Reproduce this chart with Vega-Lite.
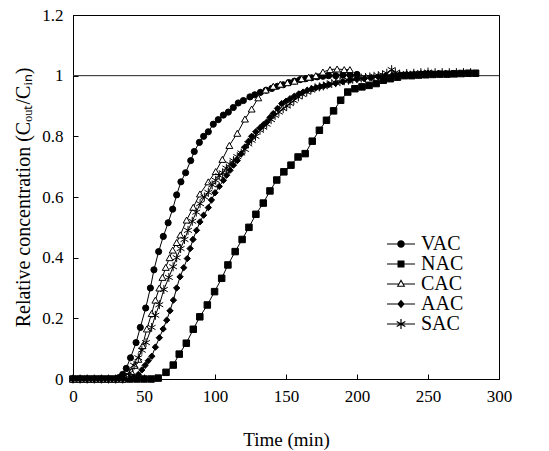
{
  "$schema": "https://vega.github.io/schema/vega-lite/v6.json",
  "width": 426,
  "height": 364,
  "autosize": {"type": "none"},
  "padding": {"left": 73, "top": 15, "right": 50, "bottom": 72},
  "background": "white",
  "config": {
    "view": {"stroke": "black", "strokeWidth": 1},
    "font": "Liberation Serif",
    "axis": {
      "grid": false,
      "domainColor": "black",
      "tickColor": "black",
      "labelColor": "black",
      "titleColor": "black",
      "labelFont": "Liberation Serif",
      "titleFont": "Liberation Serif",
      "labelFontSize": 17,
      "titleFontSize": 19,
      "titleFontWeight": "normal",
      "tickSize": -5,
      "labelOverlap": false,
      "labelFlush": false
    }
  },
  "datasets": {
    "ref": [{"c": 1}],
    "d": [
      {"s":"VAC","t":0,"c":0},{"s":"VAC","t":2.5,"c":0},{"s":"VAC","t":5,"c":0},{"s":"VAC","t":7.5,"c":0},{"s":"VAC","t":10,"c":0},{"s":"VAC","t":12.5,"c":0},{"s":"VAC","t":15,"c":0},{"s":"VAC","t":17.5,"c":0},{"s":"VAC","t":20,"c":0},{"s":"VAC","t":22.5,"c":0},{"s":"VAC","t":25,"c":0},{"s":"VAC","t":27.5,"c":0},{"s":"VAC","t":30,"c":0},
      {"s":"VAC","t":32.5,"c":0.005},{"s":"VAC","t":35,"c":0.015},{"s":"VAC","t":37.5,"c":0.035},{"s":"VAC","t":40.5,"c":0.07},{"s":"VAC","t":44.4,"c":0.12},{"s":"VAC","t":47.4,"c":0.17},{"s":"VAC","t":51.2,"c":0.234},{"s":"VAC","t":54.5,"c":0.3},{"s":"VAC","t":57,"c":0.36},{"s":"VAC","t":60.3,"c":0.42},{"s":"VAC","t":63.6,"c":0.47},{"s":"VAC","t":67,"c":0.515},{"s":"VAC","t":70.2,"c":0.56},{"s":"VAC","t":73,"c":0.607},{"s":"VAC","t":76,"c":0.65},{"s":"VAC","t":79.3,"c":0.68},{"s":"VAC","t":82.9,"c":0.72},{"s":"VAC","t":85.4,"c":0.75},{"s":"VAC","t":89,"c":0.78},{"s":"VAC","t":92,"c":0.8},{"s":"VAC","t":95.3,"c":0.815},{"s":"VAC","t":98.8,"c":0.84},{"s":"VAC","t":102.3,"c":0.855},{"s":"VAC","t":105.9,"c":0.87},{"s":"VAC","t":109.4,"c":0.88},{"s":"VAC","t":112.9,"c":0.895},{"s":"VAC","t":116.4,"c":0.91},{"s":"VAC","t":120,"c":0.918},{"s":"VAC","t":124.6,"c":0.93},{"s":"VAC","t":128,"c":0.937},{"s":"VAC","t":132,"c":0.945},{"s":"VAC","t":136,"c":0.952},{"s":"VAC","t":140,"c":0.958},{"s":"VAC","t":144,"c":0.965},{"s":"VAC","t":148,"c":0.97},{"s":"VAC","t":152,"c":0.977},{"s":"VAC","t":156,"c":0.982},{"s":"VAC","t":160,"c":0.987},{"s":"VAC","t":164,"c":0.99},{"s":"VAC","t":168,"c":0.993},{"s":"VAC","t":172,"c":0.996},{"s":"VAC","t":176,"c":0.998},{"s":"VAC","t":180,"c":1.0},{"s":"VAC","t":185,"c":1.0},{"s":"VAC","t":190,"c":1.002},{"s":"VAC","t":195,"c":1.003},{"s":"VAC","t":200,"c":1.004},

      {"s":"NAC","t":0,"c":0},{"s":"NAC","t":5,"c":0},{"s":"NAC","t":10,"c":0},{"s":"NAC","t":15,"c":0},{"s":"NAC","t":20,"c":0},{"s":"NAC","t":25,"c":0},{"s":"NAC","t":30,"c":0},{"s":"NAC","t":35,"c":0},{"s":"NAC","t":40,"c":0},{"s":"NAC","t":45,"c":0},{"s":"NAC","t":50,"c":0},{"s":"NAC","t":55,"c":0},
      {"s":"NAC","t":60,"c":0.003},{"s":"NAC","t":65.5,"c":0.022},{"s":"NAC","t":70.6,"c":0.046},{"s":"NAC","t":74.8,"c":0.082},{"s":"NAC","t":79.8,"c":0.118},{"s":"NAC","t":84.7,"c":0.164},{"s":"NAC","t":89.3,"c":0.205},{"s":"NAC","t":94.6,"c":0.244},{"s":"NAC","t":99.7,"c":0.288},{"s":"NAC","t":104.7,"c":0.332},{"s":"NAC","t":109.1,"c":0.376},{"s":"NAC","t":114.2,"c":0.42},{"s":"NAC","t":119.1,"c":0.46},{"s":"NAC","t":123.9,"c":0.5},{"s":"NAC","t":128.8,"c":0.543},{"s":"NAC","t":134,"c":0.58},{"s":"NAC","t":138.7,"c":0.62},{"s":"NAC","t":143.5,"c":0.656},{"s":"NAC","t":148.5,"c":0.683},{"s":"NAC","t":153.5,"c":0.705},{"s":"NAC","t":158.5,"c":0.732},{"s":"NAC","t":163.5,"c":0.743},{"s":"NAC","t":168.5,"c":0.784},{"s":"NAC","t":173.5,"c":0.82},{"s":"NAC","t":178.5,"c":0.853},{"s":"NAC","t":183.5,"c":0.884},{"s":"NAC","t":188.5,"c":0.919},{"s":"NAC","t":193.5,"c":0.946},{"s":"NAC","t":198.5,"c":0.957},{"s":"NAC","t":203.5,"c":0.963},{"s":"NAC","t":208.5,"c":0.968},{"s":"NAC","t":213.5,"c":0.974},{"s":"NAC","t":218.5,"c":0.985},{"s":"NAC","t":223.5,"c":0.99},{"s":"NAC","t":228.5,"c":0.995},{"s":"NAC","t":233.5,"c":1.0},{"s":"NAC","t":238.5,"c":1.0},{"s":"NAC","t":243.5,"c":1.002},{"s":"NAC","t":248.5,"c":1.003},{"s":"NAC","t":253.5,"c":1.004},{"s":"NAC","t":258.5,"c":1.005},{"s":"NAC","t":263.5,"c":1.005},{"s":"NAC","t":268.5,"c":1.006},{"s":"NAC","t":273.5,"c":1.007},{"s":"NAC","t":278.5,"c":1.008},{"s":"NAC","t":283.5,"c":1.008},

      {"s":"CAC","t":0,"c":0},{"s":"CAC","t":5,"c":0},{"s":"CAC","t":10,"c":0},{"s":"CAC","t":15,"c":0},{"s":"CAC","t":20,"c":0},{"s":"CAC","t":25,"c":0},{"s":"CAC","t":30,"c":0},{"s":"CAC","t":35,"c":0},
      {"s":"CAC","t":38,"c":0.01},{"s":"CAC","t":41,"c":0.025},{"s":"CAC","t":43.5,"c":0.045},{"s":"CAC","t":46,"c":0.065},{"s":"CAC","t":49,"c":0.11},{"s":"CAC","t":52,"c":0.165},{"s":"CAC","t":55.4,"c":0.216},{"s":"CAC","t":58,"c":0.26},{"s":"CAC","t":60.8,"c":0.3},{"s":"CAC","t":63,"c":0.335},{"s":"CAC","t":65.3,"c":0.368},{"s":"CAC","t":68,"c":0.4},{"s":"CAC","t":70.2,"c":0.425},{"s":"CAC","t":73,"c":0.45},{"s":"CAC","t":75.6,"c":0.475},{"s":"CAC","t":80,"c":0.524},{"s":"CAC","t":84.7,"c":0.566},{"s":"CAC","t":89.4,"c":0.61},{"s":"CAC","t":95.3,"c":0.65},{"s":"CAC","t":100.5,"c":0.684},{"s":"CAC","t":105.2,"c":0.724},{"s":"CAC","t":110.1,"c":0.77},{"s":"CAC","t":115.7,"c":0.81},{"s":"CAC","t":121.1,"c":0.857},{"s":"CAC","t":125.8,"c":0.89},{"s":"CAC","t":130.5,"c":0.927},{"s":"CAC","t":135.7,"c":0.953},{"s":"CAC","t":141,"c":0.965},{"s":"CAC","t":146,"c":0.972},{"s":"CAC","t":151,"c":0.977},{"s":"CAC","t":156,"c":0.982},{"s":"CAC","t":161,"c":0.99},{"s":"CAC","t":166,"c":0.995},{"s":"CAC","t":171,"c":1.0},{"s":"CAC","t":176,"c":1.012},{"s":"CAC","t":181,"c":1.02},{"s":"CAC","t":186,"c":1.022},{"s":"CAC","t":191,"c":1.02},{"s":"CAC","t":195,"c":1.02},

      {"s":"AAC","t":0,"c":0},{"s":"AAC","t":5,"c":0},{"s":"AAC","t":10,"c":0},{"s":"AAC","t":15,"c":0},{"s":"AAC","t":20,"c":0},{"s":"AAC","t":25,"c":0},{"s":"AAC","t":30,"c":0},{"s":"AAC","t":35,"c":0},{"s":"AAC","t":40,"c":0},
      {"s":"AAC","t":43,"c":0.005},{"s":"AAC","t":46,"c":0.015},{"s":"AAC","t":48.5,"c":0.03},{"s":"AAC","t":50.8,"c":0.045},{"s":"AAC","t":53,"c":0.06},{"s":"AAC","t":55.5,"c":0.075},{"s":"AAC","t":58,"c":0.105},{"s":"AAC","t":60.8,"c":0.136},{"s":"AAC","t":63.5,"c":0.165},{"s":"AAC","t":66,"c":0.194},{"s":"AAC","t":68.3,"c":0.225},{"s":"AAC","t":70.7,"c":0.26},{"s":"AAC","t":73,"c":0.3},{"s":"AAC","t":75.4,"c":0.337},{"s":"AAC","t":78,"c":0.367},{"s":"AAC","t":80.5,"c":0.397},{"s":"AAC","t":82.5,"c":0.43},{"s":"AAC","t":84.5,"c":0.46},{"s":"AAC","t":87,"c":0.49},{"s":"AAC","t":89.4,"c":0.518},{"s":"AAC","t":92,"c":0.54},{"s":"AAC","t":95.3,"c":0.565},{"s":"AAC","t":97.5,"c":0.59},{"s":"AAC","t":100,"c":0.614},{"s":"AAC","t":103,"c":0.635},{"s":"AAC","t":105.9,"c":0.655},{"s":"AAC","t":108.2,"c":0.672},{"s":"AAC","t":110.6,"c":0.688},{"s":"AAC","t":113,"c":0.705},{"s":"AAC","t":115.7,"c":0.72},{"s":"AAC","t":118.5,"c":0.742},{"s":"AAC","t":121.1,"c":0.765},{"s":"AAC","t":123.5,"c":0.783},{"s":"AAC","t":125.8,"c":0.8},{"s":"AAC","t":128.7,"c":0.815},{"s":"AAC","t":131.7,"c":0.828},{"s":"AAC","t":134,"c":0.838},{"s":"AAC","t":136.4,"c":0.847},{"s":"AAC","t":138.7,"c":0.862},{"s":"AAC","t":141,"c":0.875},{"s":"AAC","t":144,"c":0.892},{"s":"AAC","t":147,"c":0.908},{"s":"AAC","t":150,"c":0.916},{"s":"AAC","t":152.8,"c":0.924},{"s":"AAC","t":155.8,"c":0.932},{"s":"AAC","t":159,"c":0.94},{"s":"AAC","t":162,"c":0.946},{"s":"AAC","t":165,"c":0.952},{"s":"AAC","t":168,"c":0.956},{"s":"AAC","t":171,"c":0.96},{"s":"AAC","t":174,"c":0.964},{"s":"AAC","t":177,"c":0.967},{"s":"AAC","t":180,"c":0.97},{"s":"AAC","t":185,"c":0.975},{"s":"AAC","t":190,"c":0.98},{"s":"AAC","t":195,"c":0.985},{"s":"AAC","t":200,"c":0.988},{"s":"AAC","t":205,"c":0.99},{"s":"AAC","t":210,"c":0.993},{"s":"AAC","t":215,"c":0.996},{"s":"AAC","t":220,"c":1.0},{"s":"AAC","t":225,"c":1.002},{"s":"AAC","t":230,"c":1.004},{"s":"AAC","t":235,"c":1.005},{"s":"AAC","t":240,"c":1.006},{"s":"AAC","t":245,"c":1.007},{"s":"AAC","t":250,"c":1.008},

      {"s":"SAC","t":0,"c":0},{"s":"SAC","t":5,"c":0},{"s":"SAC","t":10,"c":0},{"s":"SAC","t":15,"c":0},{"s":"SAC","t":20,"c":0},{"s":"SAC","t":25,"c":0},{"s":"SAC","t":30,"c":0},{"s":"SAC","t":35,"c":0},
      {"s":"SAC","t":37.5,"c":0.005},{"s":"SAC","t":40,"c":0.02},{"s":"SAC","t":43,"c":0.045},{"s":"SAC","t":46,"c":0.07},{"s":"SAC","t":48.5,"c":0.095},{"s":"SAC","t":51.4,"c":0.12},{"s":"SAC","t":55.4,"c":0.17},{"s":"SAC","t":58,"c":0.21},{"s":"SAC","t":60.8,"c":0.245},{"s":"SAC","t":64,"c":0.295},{"s":"SAC","t":67.5,"c":0.335},{"s":"SAC","t":70.5,"c":0.37},{"s":"SAC","t":73,"c":0.4},{"s":"SAC","t":75.8,"c":0.43},{"s":"SAC","t":78.5,"c":0.46},{"s":"SAC","t":81,"c":0.49},{"s":"SAC","t":84,"c":0.52},{"s":"SAC","t":86.8,"c":0.55},{"s":"SAC","t":89.5,"c":0.578},{"s":"SAC","t":92.5,"c":0.6},{"s":"SAC","t":95.3,"c":0.615},{"s":"SAC","t":98,"c":0.64},{"s":"SAC","t":100.5,"c":0.655},{"s":"SAC","t":103,"c":0.67},{"s":"SAC","t":105.4,"c":0.68},{"s":"SAC","t":108,"c":0.695},{"s":"SAC","t":110.6,"c":0.708},{"s":"SAC","t":113,"c":0.72},{"s":"SAC","t":115.7,"c":0.733},{"s":"SAC","t":118.5,"c":0.745},{"s":"SAC","t":121.1,"c":0.757},{"s":"SAC","t":123.5,"c":0.775},{"s":"SAC","t":125.8,"c":0.787},{"s":"SAC","t":128.5,"c":0.8},{"s":"SAC","t":131.7,"c":0.82},{"s":"SAC","t":134,"c":0.83},{"s":"SAC","t":136.4,"c":0.84},{"s":"SAC","t":139.5,"c":0.855},{"s":"SAC","t":142.3,"c":0.869},{"s":"SAC","t":145,"c":0.88},{"s":"SAC","t":148,"c":0.891},{"s":"SAC","t":150.5,"c":0.9},{"s":"SAC","t":152.8,"c":0.908},{"s":"SAC","t":155.5,"c":0.918},{"s":"SAC","t":158.7,"c":0.93},{"s":"SAC","t":161.5,"c":0.938},{"s":"SAC","t":164.6,"c":0.946},{"s":"SAC","t":167.5,"c":0.953},{"s":"SAC","t":170.4,"c":0.96},{"s":"SAC","t":173.5,"c":0.963},{"s":"SAC","t":176.3,"c":0.966},{"s":"SAC","t":179,"c":0.97},{"s":"SAC","t":182.2,"c":0.974},{"s":"SAC","t":185,"c":0.977},{"s":"SAC","t":188,"c":0.98},{"s":"SAC","t":191,"c":0.983},{"s":"SAC","t":194,"c":0.985},{"s":"SAC","t":197,"c":0.988},{"s":"SAC","t":200,"c":0.99},{"s":"SAC","t":203,"c":0.992},{"s":"SAC","t":206,"c":0.994},{"s":"SAC","t":209,"c":0.996},{"s":"SAC","t":212,"c":0.998},{"s":"SAC","t":215,"c":1.0},{"s":"SAC","t":218,"c":1.003},{"s":"SAC","t":221,"c":1.008},{"s":"SAC","t":224.4,"c":1.02},{"s":"SAC","t":227,"c":1.01},{"s":"SAC","t":230,"c":1.005},{"s":"SAC","t":235,"c":1.007},{"s":"SAC","t":240,"c":1.008},{"s":"SAC","t":245,"c":1.01},{"s":"SAC","t":250,"c":1.012},{"s":"SAC","t":255,"c":1.01},{"s":"SAC","t":260,"c":1.01},{"s":"SAC","t":265,"c":1.01},{"s":"SAC","t":270,"c":1.01},{"s":"SAC","t":275,"c":1.01},{"s":"SAC","t":280,"c":1.01}
    ]
  },
  "resolve": {"scale": {"shape": "independent"}, "legend": {"shape": "independent"}},
  "layer": [
    {
      "data": {"name": "ref"},
      "mark": {"type": "rule", "color": "#222222", "strokeWidth": 1},
      "encoding": {
        "y": {"field": "c", "type": "quantitative", "scale": {"domain": [0, 1.2], "nice": false}}
      }
    },
    {
      "data": {"name": "d"},
      "mark": {"type": "line", "color": "black", "strokeWidth": 1},
      "encoding": {
        "x": {"field": "t", "type": "quantitative", "scale": {"domain": [0, 300], "nice": false},
          "axis": {"values": [0,25,50,75,100,125,150,175,200,225,250,275,300],
            "labelExpr": "datum.value % 50 === 0 ? datum.label : ''",
            "title": "Time (min)", "labelPadding": 14, "titlePadding": 26}},
        "y": {"field": "c", "type": "quantitative", "scale": {"domain": [0, 1.2], "nice": false},
          "axis": {"values": [0,0.1,0.2,0.3,0.4,0.5,0.6,0.7,0.8,0.9,1,1.1,1.2],
            "labelExpr": "round(datum.value*10) % 2 === 0 ? format(datum.value, '~g') : ''",
            "title": "Relative concentration (Cₒᵤₜ/Cᵢₙ)", "titleFontSize": 20, "labelPadding": 15, "titlePadding": 8}},
        "detail": {"field": "s", "type": "nominal"},
        "order": {"field": "t", "type": "quantitative"}
      }
    },
    {
      "data": {"name": "d"},
      "mark": {"type": "point", "filled": true, "stroke": "black", "strokeWidth": 1, "opacity": 1, "fill": "black"},
      "encoding": {
        "x": {"field": "t", "type": "quantitative"},
        "y": {"field": "c", "type": "quantitative"},
        "shape": {"field": "s", "type": "nominal",
          "scale": {"domain": ["VAC","NAC","CAC","AAC","SAC"],
            "range": ["circle","square","triangle-up","diamond","M0,-1L0,1M-0.87,-0.5L0.87,0.5M-0.87,0.5L0.87,-0.5"]},
          "legend": null},
        "fill": {"condition": {"test": "datum.s === 'CAC'", "value": "white"}, "value": "black"},
        "size": {"condition": [
          {"test": "datum.s === 'VAC'", "value": 38},
          {"test": "datum.s === 'NAC'", "value": 42},
          {"test": "datum.s === 'CAC'", "value": 48},
          {"test": "datum.s === 'AAC'", "value": 40}
        ], "value": 80}
      }
    },
    {
      "data": {"name": "d"},
      "mark": {"type": "point", "filled": true, "color": "black", "opacity": 0, "size": 100},
      "encoding": {
        "x": {"field": "t", "type": "quantitative"},
        "y": {"field": "c", "type": "quantitative"},
        "shape": {"field": "s", "type": "nominal",
          "scale": {"domain": ["VAC","NAC","CAC","AAC","SAC"],
            "range": [
              "M-2.8,-0.1L-0.72,-0.1L-0.72,0.1L-2.8,0.1ZM0.72,-0.1L2.8,-0.1L2.8,0.1L0.72,0.1ZM0.75,0A0.75,0.75,0,1,1,-0.75,0A0.75,0.75,0,1,1,0.75,0Z",
              "M-2.8,-0.1L-0.7,-0.1L-0.7,0.1L-2.8,0.1ZM0.7,-0.1L2.8,-0.1L2.8,0.1L0.7,0.1ZM-0.7,-0.7L0.7,-0.7L0.7,0.7L-0.7,0.7Z",
              "M-2.8,-0.1L-0.5,-0.1L-0.5,0.1L-2.8,0.1ZM0.5,-0.1L2.8,-0.1L2.8,0.1L0.5,0.1ZM0,-0.95L0.85,0.55L-0.85,0.55ZM0,-0.52L-0.5,0.35L0.5,0.35Z",
              "M-2.8,-0.1L-0.7,-0.1L-0.7,0.1L-2.8,0.1ZM0.7,-0.1L2.8,-0.1L2.8,0.1L0.7,0.1ZM0,-0.85L0.75,0L0,0.85L-0.75,0Z",
              "M-2.8,-0.1L2.8,-0.1L2.8,0.1L-2.8,0.1ZM-0.12,-1L0.12,-1L0.12,1L-0.12,1ZM0.806,0.604L-0.926,-0.396L-0.806,-0.604L0.926,0.396ZM0.926,-0.396L-0.806,0.604L-0.926,0.396L0.806,-0.604Z"
            ]},
          "legend": {
            "title": null, "orient": "none", "legendX": 318, "legendY": 219, "padding": 0,
            "labelFont": "Liberation Serif", "labelFontSize": 20, "labelColor": "black",
            "symbolSize": 100, "labelOffset": 10, "rowPadding": 0,
            "symbolOpacity": 1, "symbolFillColor": "black"
          }}
      }
    }
  ]
}
